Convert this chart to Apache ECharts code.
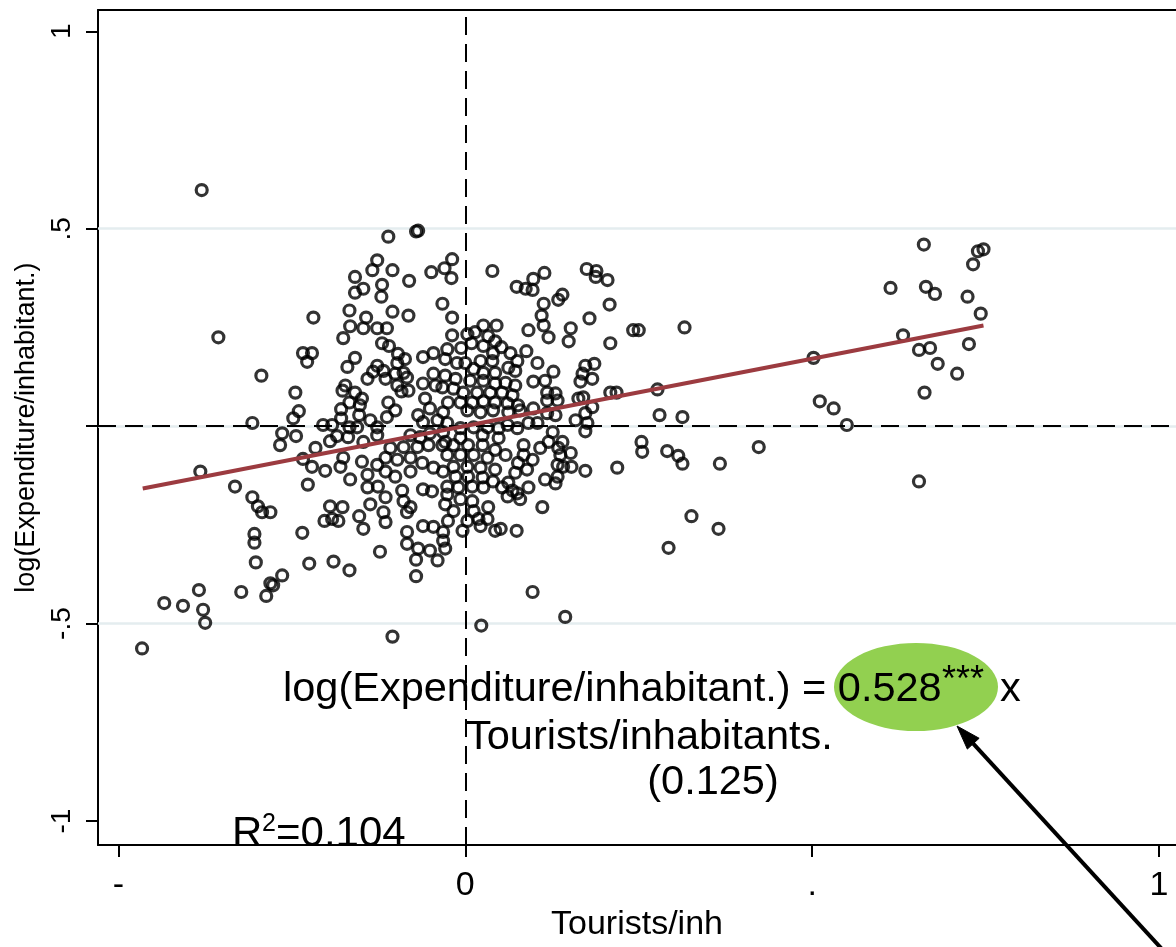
<!DOCTYPE html>
<html><head><meta charset="utf-8">
<script src="https://cdn.jsdelivr.net/npm/echarts@6/dist/echarts.min.js"></script>
<style>html,body{margin:0;padding:0;background:#fff;overflow:hidden;width:100%;height:100%}#chart{width:100vw;height:100vh}</style>
</head><body><div id="chart"></div>
<script>
// ---- axis ticks / labels ----
const xTicks = [-0.5, 0, 0.5, 1];
const xTickLabels = ['-', '0', '.', '1'];
const yTicks = [-1, -0.5, 0, 0.5, 1];
const yTickLabels = ['-1', '-.5', '', '.5', '1'];
const gridLevels = [-0.5, 0, 0.5];
// ---- fitted line ----
const fitX = [-0.465, 0.747];
const fitY = [-0.158, 0.255];
// ---- observations [tourists/inh, log(expenditure/inh)] ----
const leftTail = [
[-0.380,0.598],[-0.356,0.225],[-0.294,0.128],[-0.307,0.008],[-0.382,-0.115],[-0.332,-0.153],
[-0.307,-0.180],[-0.299,-0.203],[-0.293,-0.218],[-0.281,-0.218],[-0.304,-0.273],[-0.304,-0.295],
[-0.302,-0.345],[-0.287,-0.430],[-0.281,-0.398],[-0.277,-0.403],[-0.323,-0.420],[-0.384,-0.415],
[-0.434,-0.448],[-0.407,-0.455],[-0.378,-0.465],[-0.375,-0.498],[-0.466,-0.563]
];
const coreUpperLeft = [
[-0.111,0.480],[-0.071,0.493],[-0.068,0.495],[-0.127,0.420],[-0.134,0.395],[-0.105,0.395],
[-0.159,0.378],[-0.081,0.368],[-0.049,0.390],[-0.120,0.358],[-0.147,0.348],[-0.159,0.338],
[-0.121,0.328],[-0.167,0.293],[-0.105,0.290],[-0.082,0.280],[-0.143,0.275],[-0.219,0.275],
[-0.166,0.253],[-0.147,0.248],[-0.127,0.248],[-0.113,0.248],[-0.176,0.223],[-0.120,0.210],
[-0.110,0.203],[-0.234,0.185],[-0.221,0.185],[-0.228,0.163],[-0.159,0.173],[-0.170,0.150],
[-0.097,0.183],[-0.087,0.170],[-0.098,0.160],[-0.061,0.175],[-0.046,0.185],[-0.127,0.153],
[-0.133,0.138],[-0.141,0.120],[-0.118,0.140],[-0.115,0.120],[-0.101,0.133],[-0.089,0.135],
[-0.084,0.123],[-0.046,0.133],[-0.061,0.108],[-0.043,0.103],[-0.033,0.098],[-0.173,0.103],
[-0.177,0.090],[-0.159,0.085],[-0.149,0.070],[-0.167,0.060],[-0.152,0.053],[-0.098,0.103],
[-0.092,0.088],[-0.082,0.090],[-0.111,0.060],[-0.245,0.085],[-0.058,0.070]
];
const coreLowerLeft = [
[-0.240,0.038],[-0.248,0.020],[-0.264,-0.018],[-0.267,-0.048],[-0.244,-0.025],[-0.216,-0.055],
[-0.205,0.003],[-0.192,0.003],[-0.195,-0.038],[-0.185,-0.025],[-0.179,0.043],[-0.179,0.020],
[-0.167,-0.003],[-0.156,-0.003],[-0.153,0.028],[-0.137,0.015],[-0.127,-0.003],[-0.113,0.023],
[-0.101,0.040],[-0.127,-0.023],[-0.147,-0.040],[-0.169,-0.028],[-0.176,-0.080],[-0.180,-0.103],
[-0.166,-0.135],[-0.149,-0.090],[-0.202,-0.113],[-0.221,-0.103],[-0.234,-0.083],[-0.227,-0.148],
[-0.235,-0.270],[-0.195,-0.203],[-0.203,-0.240],[-0.183,-0.240],[-0.177,-0.205],[-0.192,-0.235],
[-0.153,-0.228],[-0.147,-0.260],[-0.225,-0.348],[-0.190,-0.343],[-0.167,-0.365],[-0.123,-0.318],
[-0.141,-0.123],[-0.141,-0.155],[-0.137,-0.198],[-0.127,-0.098],[-0.115,-0.115],[-0.126,-0.153],
[-0.115,-0.180],[-0.118,-0.218],[-0.115,-0.243],[-0.091,-0.163],[-0.089,-0.190],[-0.084,-0.218],
[-0.079,-0.205],[-0.084,-0.268],[-0.084,-0.298],[-0.068,-0.310],[-0.051,-0.315],[-0.040,-0.340],
[-0.071,-0.338],[-0.061,-0.253],[-0.046,-0.255],[-0.032,-0.268],[-0.032,-0.290],[-0.029,-0.198],
[-0.101,-0.128],[-0.079,-0.115],[-0.061,-0.160],[-0.048,-0.165],[-0.115,-0.080],[-0.098,-0.085],
[-0.079,-0.080],[-0.062,-0.093],[-0.046,-0.105],[-0.032,-0.115],[-0.108,-0.055],[-0.089,-0.053],
[-0.069,-0.053],[-0.053,-0.048],[-0.033,-0.048],[-0.079,-0.023],[-0.065,-0.028],[-0.051,-0.018],
[-0.032,-0.015],[-0.061,0.010],[-0.040,0.015],[-0.026,0.008],[-0.068,0.028],[-0.051,0.045],
[-0.032,0.035],[-0.029,-0.310],[-0.026,-0.073],[-0.029,-0.040],[-0.026,-0.153],[-0.026,-0.173]
];
const lowerOutliers = [
[-0.264,-0.378],[-0.105,-0.533],[-0.071,-0.380],[0.023,-0.505],[0.097,-0.420],[0.144,-0.483]
];
const coreUpperRight = [
[-0.019,0.423],[-0.030,0.400],[-0.020,0.375],[0.039,0.393],[0.074,0.353],[0.087,0.348],
[0.097,0.345],[0.098,0.373],[0.114,0.388],[0.175,0.398],[0.189,0.393],[0.188,0.378],
[0.205,0.370],[0.140,0.333],[0.134,0.320],[0.113,0.310],[0.110,0.280],[0.113,0.255],
[0.091,0.243],[0.120,0.225],[0.152,0.248],[0.149,0.215],[0.179,0.273],[0.208,0.308],
[0.209,0.210],[-0.033,0.310],[-0.019,0.275],[-0.019,0.230],[0.003,0.233],[0.014,0.238],
[0.026,0.255],[0.045,0.255],[0.033,0.228],[0.009,0.210],[-0.006,0.198],[-0.026,0.195],
[-0.029,0.170],[-0.012,0.160],[0.000,0.160],[0.026,0.203],[0.043,0.215],[0.052,0.200],
[0.065,0.185],[0.075,0.165],[0.088,0.190],[0.104,0.160],[0.040,0.185],[0.022,0.165],
[0.039,0.165],[0.012,0.145],[0.026,0.135],[0.043,0.135],[0.062,0.148],[0.072,0.140],
[0.127,0.138],[0.098,0.113],[0.115,0.115],[0.173,0.153],[0.186,0.158],[0.169,0.133],
[0.183,0.120],[0.166,0.113],[-0.029,0.128],[-0.014,0.120],[0.007,0.115],[0.026,0.115],
[0.043,0.108],[0.058,0.110],[0.072,0.103],[-0.017,0.095],[-0.003,0.085],[0.017,0.085],
[0.036,0.085],[0.053,0.085],[0.068,0.078],[-0.025,0.060],[-0.007,0.060],[0.010,0.060],
[0.026,0.063],[0.043,0.060],[0.061,0.058],[0.076,0.053],[0.118,0.085],[0.130,0.083],
[0.118,0.065],[0.133,0.065],[0.163,0.070],[0.170,0.073],[0.209,0.085],[0.218,0.085]
];
const coreLowerRight = [
[0.003,0.040],[0.022,0.035],[0.040,0.040],[0.062,0.035],[0.079,0.040],[0.098,0.045],
[0.118,0.033],[0.130,0.028],[0.159,0.015],[0.173,0.033],[0.176,0.008],[0.173,-0.013],
[0.183,0.048],[0.091,0.008],[0.104,0.008],[0.075,-0.005],[0.061,0.003],[0.048,-0.005],
[0.032,-0.003],[0.012,-0.003],[-0.007,-0.005],[0.126,-0.015],[0.120,-0.040],[0.140,-0.040],
[0.134,-0.055],[0.152,-0.068],[0.108,-0.055],[0.097,-0.085],[0.084,-0.048],[0.084,-0.073],
[0.076,-0.093],[0.089,-0.110],[0.133,-0.098],[0.141,-0.103],[0.153,-0.103],[0.173,-0.113],
[0.219,-0.105],[0.115,-0.135],[0.133,-0.128],[0.130,-0.145],[0.072,-0.118],[0.062,-0.143],
[0.068,-0.163],[0.091,-0.155],[0.079,-0.185],[0.061,-0.178],[0.111,-0.205],[0.033,-0.205],
[0.019,-0.235],[0.032,-0.235],[0.022,-0.253],[0.043,-0.265],[0.051,-0.260],[0.074,-0.265],
[-0.004,-0.265],[-0.017,-0.215],[0.040,-0.140],[0.043,-0.110],[0.053,-0.155],[0.032,-0.080],
[0.025,-0.048],[0.043,-0.060],[0.058,-0.073],[0.012,-0.073],[-0.007,-0.073],[-0.017,-0.048],
[0.004,-0.048],[0.025,-0.023],[0.048,-0.030],[-0.007,-0.030],[-0.017,-0.103],[0.003,-0.103],
[0.022,-0.105],[-0.014,-0.128],[0.004,-0.128],[0.025,-0.130],[-0.010,-0.155],[0.010,-0.153],
[0.026,-0.155],[-0.007,-0.185],[0.010,-0.190],[0.012,-0.215],[-0.025,-0.240],[0.003,-0.240],
[0.137,-0.073],[0.075,-0.170]
];
const rightTail = [
[0.242,0.243],[0.250,0.243],[0.316,0.250],[0.277,0.093],[0.280,0.028],[0.313,0.023],
[0.254,-0.040],[0.255,-0.065],[0.291,-0.063],[0.307,-0.075],[0.313,-0.095],[0.367,-0.095],
[0.423,-0.053],[0.326,-0.228],[0.365,-0.260],[0.293,-0.308],[0.502,0.173],[0.511,0.063],
[0.531,0.045],[0.550,0.003],[0.613,0.350],[0.661,0.460],[0.664,0.353],[0.677,0.335],
[0.631,0.230],[0.654,0.193],[0.670,0.198],[0.681,0.158],[0.709,0.133],[0.662,0.085],
[0.654,-0.140],[0.724,0.328],[0.743,0.285],[0.726,0.208],[0.732,0.410],[0.739,0.443],
[0.747,0.448]
];

const points = [].concat(leftTail, coreUpperLeft, coreLowerLeft, lowerOutliers,
  coreUpperRight, coreLowerRight, rightTail);
const fitData = fitX.map((x, i) => [x, fitY[i]]);

const FONT = '"Liberation Sans", Arial, Helvetica, sans-serif';
const labelFor = (ticks, labels) => v => {
  const i = ticks.findIndex(t => Math.abs(t - v) < 1e-9);
  return i >= 0 ? labels[i] : '';
};

const X_MIN = -0.5295, X_MAX = 1.0245, Y_MIN = -1.061, Y_MAX = 1.054;

const chart = echarts.init(document.getElementById('chart'), null, { renderer: 'canvas' });

// arrow geometry (annotation, pixel space)
const tip = [957, 726], tail = [1172, 960];
const dl = Math.hypot(tail[0] - tip[0], tail[1] - tip[1]);
const ux = (tail[0] - tip[0]) / dl, uy = (tail[1] - tip[1]) / dl;
const headLen = 24, headHalf = 8;
const base = [tip[0] + ux * headLen, tip[1] + uy * headLen];
const head = [tip, [base[0] - uy * headHalf, base[1] + ux * headHalf], [base[0] + uy * headHalf, base[1] - ux * headHalf]];

const txt = (text, x, y, size, align) => ({ type: 'text', x, y, z: 60,
  style: { text, fontSize: size, fontFamily: FONT, fill: '#000', align: align || 'left', verticalAlign: 'middle' } });

chart.setOption({
  animation: false,
  backgroundColor: '#ffffff',
  grid: { left: 98, right: 0, top: 10, bottom: 91, containLabel: false },
  xAxis: [{
    type: 'value', min: X_MIN, max: X_MAX, position: 'bottom',
    axisLine: { show: true, onZero: false, lineStyle: { color: '#000', width: 2 } },
    axisTick: { show: true, customValues: xTicks, length: 12, lineStyle: { color: '#000', width: 2 } },
    axisLabel: { show: true, customValues: xTicks, formatter: labelFor(xTicks, xTickLabels),
      fontSize: 34, color: '#000', margin: 24, fontFamily: FONT },
    splitLine: { show: false },
    name: 'Tourists/inh', nameLocation: 'middle', nameGap: 61,
    nameTextStyle: { fontSize: 34, color: '#000', fontFamily: FONT }
  }, {
    type: 'value', min: X_MIN, max: X_MAX, position: 'top',
    axisLine: { show: true, onZero: false, lineStyle: { color: '#000', width: 2 } },
    axisTick: { show: false }, axisLabel: { show: false }, splitLine: { show: false }
  }],
  yAxis: {
    type: 'value', min: Y_MIN, max: Y_MAX,
    axisLine: { show: true, onZero: false, lineStyle: { color: '#000', width: 2 } },
    axisTick: { show: true, customValues: yTicks, length: 12, lineStyle: { color: '#000', width: 2 } },
    axisLabel: { show: true, customValues: yTicks, rotate: 90, formatter: labelFor(yTicks, yTickLabels),
      fontSize: 28, color: '#000', margin: 22, fontFamily: FONT },
    splitLine: { show: false },
    name: 'log(Expenditure/inhabitant.)', nameLocation: 'middle', nameGap: 54, nameRotate: 90,
    nameTextStyle: { fontSize: 27, color: '#000', fontFamily: FONT }
  },
  series: [{
    name: 'reference', type: 'line', data: fitData, z: 1,
    symbol: 'none', lineStyle: { opacity: 0 }, silent: true,
    markLine: {
      z: 1, silent: true, symbol: ['none', 'none'], label: { show: false }, animation: false,
      data: [
        ...gridLevels.map(v => ({ yAxis: v, lineStyle: { color: '#e4edef', width: 2.5, type: 'solid' } })),
        { yAxis: 0, lineStyle: { color: '#000', width: 2, type: [18, 9] } },
        { xAxis: 0, lineStyle: { color: '#000', width: 2, type: [18, 9] } }
      ]
    }
  }, {
    name: 'observations', type: 'scatter', data: points, z: 2,
    symbol: 'circle', symbolSize: 11,
    itemStyle: { color: 'rgba(0,0,0,0)', borderColor: '#000', borderWidth: 3.2 }
  }, {
    name: 'fit', type: 'line', data: fitData, z: 3,
    symbol: 'none', lineStyle: { color: '#9c3b40', width: 4 }
  }],
  graphic: [
    { type: 'circle', x: 916, y: 687, scaleX: 1, scaleY: 44 / 82, shape: { cx: 0, cy: 0, r: 82 },
      style: { fill: '#92d050' }, z: 50 },
    txt('log(Expenditure/inhabitant.) = 0.528', 283, 690, 41.5),
    txt('***', 942, 681, 36),
    txt('x', 1000, 690, 41.5),
    txt('Tourists/inhabitants.', 466, 738, 41.5),
    txt('(0.125)', 713, 783, 41.5, 'center'),
    txt('R', 232, 834, 42),
    txt('2', 262, 824, 25),
    txt('=0.104', 276, 834, 42),
    { type: 'line', z: 70, shape: { x1: tail[0], y1: tail[1], x2: base[0], y2: base[1] },
      style: { stroke: '#000', lineWidth: 4 } },
    { type: 'polygon', z: 70, shape: { points: head }, style: { fill: '#000', stroke: '#000', lineWidth: 1 } }
  ]
});
window.addEventListener('resize', () => chart.resize());
</script>
</body></html>
